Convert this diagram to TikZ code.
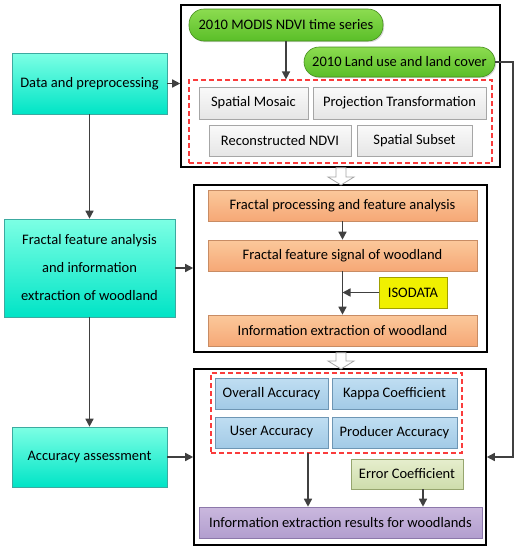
\documentclass[tikz,border=0pt]{standalone}
\usepackage{fontspec}
\setmainfont{Carlito}
\usetikzlibrary{shadows,arrows.meta}
\definecolor{arrgray}{HTML}{404040}
\tikzset{
  base/.style={font=\fontsize{14.5}{17}\selectfont, inner sep=0pt, align=center, line width=0.6pt},
  shad/.style={drop shadow={shadow xshift=1.2pt,shadow yshift=-1.2pt,opacity=0.3}},
  cyanbox/.style={base, shad, draw={rgb,255:red,60;green,170;blue,160}, top color={rgb,255:red,125;green,255;blue,228}, bottom color={rgb,255:red,0;green,228;blue,198}},
  pill/.style={base, shad, draw={rgb,255:red,70;green,140;blue,30}, rounded corners=15pt, top color={rgb,255:red,140;green,220;blue,80}, bottom color={rgb,255:red,90;green,190;blue,40}},
  graybox/.style={base, shad, draw=gray!70, top color=gray!4, bottom color=gray!20},
  orangebox/.style={base, shad, draw={rgb,255:red,200;green,140;blue,100}, top color={rgb,255:red,251;green,200;blue,155}, bottom color={rgb,255:red,246;green,168;blue,118}},
  yellowbox/.style={base, shad, draw={rgb,255:red,160;green,160;blue,0}, fill={rgb,255:red,240;green,240;blue,0}},
  bluebox/.style={base, shad, draw={rgb,255:red,110;green,150;blue,180}, top color={rgb,255:red,192;green,222;blue,242}, bottom color={rgb,255:red,162;green,202;blue,230}},
  olivebox/.style={base, shad, draw={rgb,255:red,150;green,165;blue,110}, top color={rgb,255:red,230;green,238;blue,205}, bottom color={rgb,255:red,206;green,221;blue,172}},
  purplebox/.style={base, shad, draw={rgb,255:red,140;green,120;blue,170}, top color={rgb,255:red,202;green,184;blue,222}, bottom color={rgb,255:red,178;green,158;blue,206}},
  frame/.style={draw=black, line width=1.6pt, inner sep=0pt},
  redbox/.style={draw={rgb,255:red,250;green,60;blue,60}, dash pattern=on 5pt off 3pt, line width=1.2pt, inner sep=0pt},
  arr/.style={draw=arrgray, line width=1.5pt, -{Triangle[length=8pt,width=8pt]}},
  hollow/.style={draw=gray!70, fill=white, line width=0.8pt}
}
\begin{document}
\begin{tikzpicture}[x=1pt,y=-1pt]
\useasboundingbox (0,0) rectangle (519,550);
% frames
\node[frame, minimum width=319pt, minimum height=162pt] (f1) at (340.5,86) {};
\node[frame, minimum width=293pt, minimum height=167pt] (f2) at (340.5,268.5) {};
\node[frame, minimum width=292pt, minimum height=176pt] (f3) at (340,457) {};
% left column
\node[cyanbox, minimum width=155pt, minimum height=61pt] (dp) at (89.5,83.5) {Data and preprocessing};
\node[cyanbox, minimum width=171pt, minimum height=98pt, font=\fontsize{14.5}{28}\selectfont] (ff) at (89.5,268) {Fractal feature analysis\\and information\\extraction of woodland};
\node[cyanbox, minimum width=155pt, minimum height=60pt] (aa) at (89.5,457) {Accuracy assessment};
% frame 1 content
\node[pill, minimum width=194pt, minimum height=32pt] (p1) at (286,25) {2010 MODIS NDVI time series};
\node[pill, minimum width=191pt, minimum height=30pt] (p2) at (399.5,62) {2010 Land use and land cover};
\node[redbox, minimum width=303pt, minimum height=83pt] (d1) at (340.5,121.5) {};
\node[graybox, minimum width=109pt, minimum height=32pt] (sm) at (253.5,103) {Spatial Mosaic};
\node[graybox, minimum width=173pt, minimum height=32pt] (pt) at (399.5,103) {Projection Transformation};
\node[graybox, minimum width=142pt, minimum height=31pt] (rn) at (280,140.5) {Reconstructed NDVI};
\node[graybox, minimum width=115pt, minimum height=31pt] (ss) at (414.5,140.5) {Spatial Subset};
% frame 2 content
\node[orangebox, minimum width=269pt, minimum height=31pt] (o1) at (342.5,205.5) {Fractal processing and feature analysis};
\node[orangebox, minimum width=269pt, minimum height=31pt] (o2) at (342.5,255.5) {Fractal feature signal of woodland};
\node[orangebox, minimum width=269pt, minimum height=31pt] (o3) at (342.5,330.5) {Information extraction of woodland};
\node[yellowbox, minimum width=68pt, minimum height=31pt] (iso) at (413,292.5) {ISODATA};
% frame 3 content
\node[redbox, minimum width=251pt, minimum height=80pt] (d3) at (336.5,413) {};
\node[bluebox, minimum width=113pt, minimum height=31pt] (oa) at (271.5,393.5) {Overall Accuracy};
\node[bluebox, minimum width=125pt, minimum height=31pt] (kc) at (394.5,393.5) {Kappa Coefficient};
\node[bluebox, minimum width=113pt, minimum height=31pt] (ua) at (271.5,432.5) {User Accuracy};
\node[bluebox, minimum width=125pt, minimum height=31pt] (pa) at (394.5,432.5) {Producer Accuracy};
\node[olivebox, minimum width=112pt, minimum height=30pt] (ec) at (407,474) {Error Coefficient};
\node[purplebox, minimum width=283pt, minimum height=31pt] (pu) at (340.5,522.5) {Information extraction results for woodlands};
% connectors
\draw[arr] (dp.south) -- (ff.north);
\draw[arr] (ff.south) -- (aa.north);
\draw[arr] (dp.east) -- (dp.east -| f1.west);
\draw[arr] (ff.east) -- (ff.east -| f2.west);
\draw[arr] (aa.east) -- (aa.east -| f3.west);
\draw[arr] (p1.south) -- (p1.south |- d1.north);
\draw[arr] (p2.east) -- (513,62) |- (f3.east);
\draw[arr] (o1.south) -- (o2.north);
\draw[arr] (o2.south) -- (o3.north);
\draw[arr] (iso.west) -- (iso.west -| o2.south);
\coordinate (d3out) at (308,453);
\coordinate (ecout) at (423,489);
\draw[arr] (d3out) -- (d3out |- pu.north);
\draw[arr] (ecout) -- (ecout |- pu.north);
% hollow block arrows
\draw[hollow] (336,167.8) -- (346,167.8) -- (346,177) -- (354,177) -- (341,185) -- (328,177) -- (336,177) -- cycle;
\draw[hollow] (336,352.8) -- (346,352.8) -- (346,361) -- (354,361) -- (341,369) -- (328,361) -- (336,361) -- cycle;
\end{tikzpicture}
\end{document}
